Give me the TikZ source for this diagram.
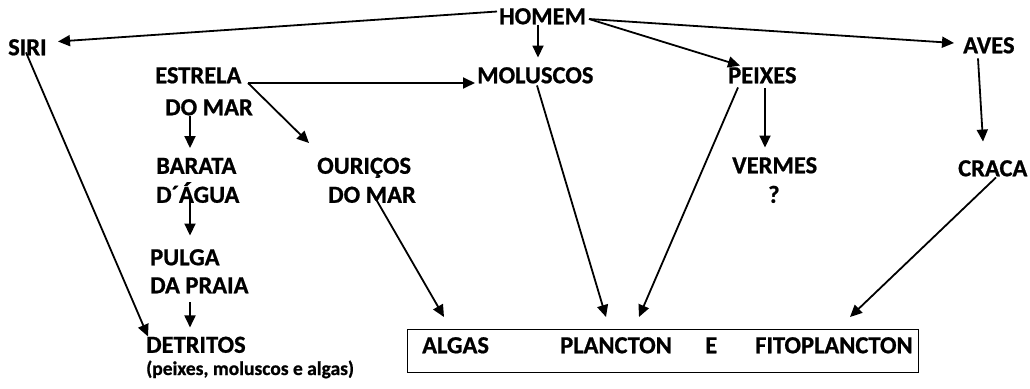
\documentclass[tikz,border=0pt]{standalone}
\usepackage{fontspec}
\setmainfont{Carlito}[BoldFeatures={FakeBold=0.8}]
\usetikzlibrary{calc,arrows.meta}
\begin{document}
\begin{tikzpicture}[x=1pt,y=-1pt,
  lbl/.style={inner sep=0pt,anchor=west,font=\fontsize{24.5}{28}\selectfont\bfseries,text height=15.5pt,text depth=0pt},
  small/.style={inner sep=0pt,anchor=base west,font=\fontsize{19.5}{23}\selectfont\bfseries},
  arr/.style={line width=1.8pt,-{Triangle[length=12pt,width=11pt]}},
  boxst/.style={draw,line width=1.4pt,inner sep=0pt,anchor=north west,minimum width=511pt,minimum height=43pt}]
\fill[white] (0,0) rectangle (1030,388);
\useasboundingbox (0,0) rectangle (1030,388);
% nodes
\node[lbl] (homem) at (499,16.5) {HOMEM};
\node[lbl] (siri) at (8,47.5) {SIRI};
\node[lbl] (estrela) at (155,75.5) {ESTRELA};
\node[lbl] (estrelab) at (165,107.5) {DO MAR};
\node[lbl] (moluscos) at (477,75.5) {MOLUSCOS};
\node[lbl] (peixes) at (728,75.5) {PEIXES};
\node[lbl] (aves) at (963,45.5) {AVES};
\node[lbl] (barata) at (156,166) {BARATA};
\node[lbl] (baratab) at (156,195) {D´ÁGUA};
\node[lbl] (ouricos) at (317,166) {OURIÇOS};
\node[lbl] (ouricosb) at (328,195) {DO MAR};
\node[lbl] (vermes) at (732,165.5) {VERMES};
\node[lbl] (q) at (768,195) {?};
\node[lbl] (craca) at (958,168.5) {CRACA};
\node[lbl] (pulga) at (150,257.5) {PULGA};
\node[lbl] (pulgab) at (150,285.5) {DA PRAIA};
\node[lbl] (detritos) at (146,345) {DETRITOS};
\node[small] (detritosb) at (146,375) {(peixes, moluscos e algas)};
\node[boxst] (box) at (407,329) {};
\node[lbl] (algas) at (422,345.5) {ALGAS};
\node[lbl] (plancton) at (560,345.5) {PLANCTON};
\node[lbl] (e) at (705,345.5) {E};
\node[lbl] (fito) at (755,345.5) {FITOPLANCTON};
% connectors
\draw[arr] ($(homem.west)+(-2,-5)$) -- ($(siri.west)+(50,-6)$);
\draw[arr] ($(moluscos.north west)+(61,-43)$) -- ($(moluscos.north west)+(61,-10)$);
\draw[arr] ($(homem.west)+(90,2.5)$) -- ($(peixes.north west)+(12,-2)$);
\draw[arr] ($(homem.west)+(90,2.5)$) -- ($(aves.west)+(-9,-2.5)$);
\draw[arr] ($(estrela.west)+(93,7.5)$) -- ($(moluscos.west)+(-2,7.5)$);
\draw[arr] ($(estrela.west)+(93,7.5)$) -- ($(ouricos.north west)+(-8,-15)$);
\draw[arr] ($(estrelab.south west)+(25,1)$) -- ($(barata.north west)+(34,-10)$);
\draw[arr] ($(baratab.south west)+(34,-4.5)$) -- ($(pulga.north west)+(40,-14)$);
\draw[arr] ($(pulgab.south west)+(40,9)$) -- ($(detritos.north west)+(44,-9.6)$);
\draw[arr] ($(siri.south west)+(18,-3)$) -- ($(detritos.north west)+(2,-0.6)$);
\draw[arr] ($(ouricosb.west)+(45,-1)$) -- ($(box.north west)+(37,-12)$);
\draw[arr] ($(moluscos.south west)+(60,2)$) -- ($(box.north west)+(199,-12)$);
\draw[arr] ($(peixes.south west)+(10,4)$) -- ($(box.north west)+(232,-12)$);
\draw[arr] ($(peixes.south west)+(37,5)$) -- ($(vermes.north west)+(33,-10)$);
\draw[arr] ($(aves.south west)+(15,5)$) -- ($(craca.north west)+(25,-19)$);
\draw[arr] ($(craca.south west)+(38,1)$) -- ($(box.north west)+(443,-12)$);
\end{tikzpicture}
\end{document}
